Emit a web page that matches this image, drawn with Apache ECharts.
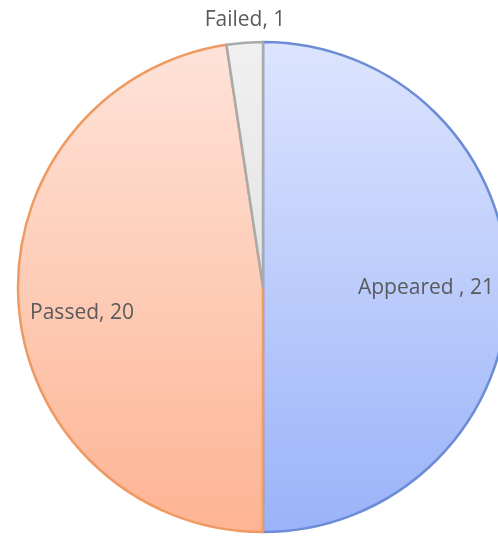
<!DOCTYPE html>
<html>
<head>
<meta charset="utf-8">
<script src="https://cdn.jsdelivr.net/npm/echarts@6/dist/echarts.min.js"></script>
<style>
  html, body { margin: 0; padding: 0; background: #ffffff; }
  #chart { width: 498px; height: 536px; }
</style>
</head>
<body>
<div id="chart"></div>
<script>
  // data
  var categories = ['Appeared ', 'Passed', 'Failed'];
  var values = [21, 20, 1];

  // slice colours: [top, bottom, border]
  var sliceColors = [
    ['#dde5fe', '#9ab2f8', '#6c8dd6'],
    ['#fee3d9', '#fdb493', '#ee9a62'],
    ['#f0f0f0', '#e4e4e4', '#aaaaaa']
  ];
  // label centre positions (px)
  var labelPos = [[426, 288], [82, 313], [245, 20]];

  var chart = echarts.init(document.getElementById('chart'));

  var data = categories.map(function (name, i) {
    return {
      name: name,
      value: values[i],
      itemStyle: {
        color: {
          type: 'linear', x: 0, y: 0, x2: 0, y2: 1,
          colorStops: [
            { offset: 0, color: sliceColors[i][0] },
            { offset: 1, color: sliceColors[i][1] }
          ]
        },
        borderColor: sliceColors[i][2],
        borderWidth: 2.5
      }
    };
  });

  chart.setOption({
    animation: false,
    series: [{
      type: 'pie',
      center: [263, 287],
      radius: [0, 245],
      startAngle: 90,
      clockwise: true,
      data: data,
      label: {
        show: true,
        position: 'inside',
        formatter: '{b}, {c}',
        color: '#5a5a5a',
        fontFamily: 'Open Sans',
        fontSize: 21
      },
      labelLine: { show: false },
      labelLayout: function (params) {
        var p = labelPos[params.dataIndex];
        return { x: p[0], y: p[1], align: 'center', verticalAlign: 'middle' };
      },
      emphasis: { disabled: true }
    }]
  });
</script>
</body>
</html>
